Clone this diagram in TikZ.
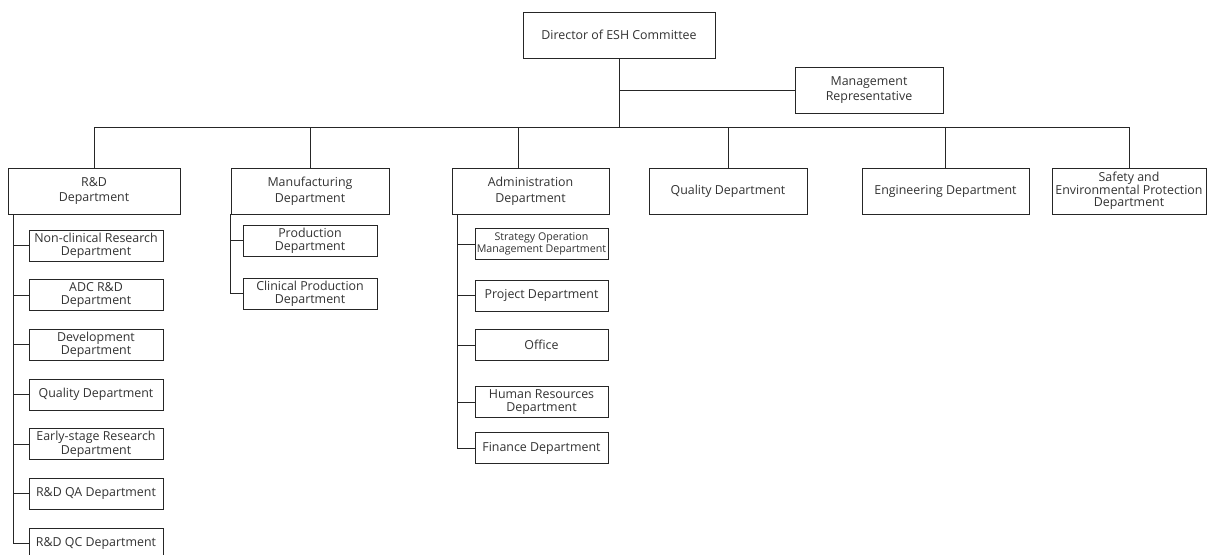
\documentclass[tikz,border=0pt]{standalone}
\usepackage{fontspec}
\setmainfont{Open Sans}
\usepackage{tikz}
\usetikzlibrary{positioning}

\begin{document}
\begin{tikzpicture}[x=0.75pt, y=-0.75pt,
  line/.style={draw=black!85, line width=0.6pt},
  box/.style={draw=black!85, line width=0.6pt, fill=white, align=center, inner sep=1pt,
    minimum height=34.5pt, text=black!80, font=\fontsize{9.3}{11.7}\selectfont},
  sub/.style={box, minimum width=100.5pt, minimum height=23.25pt, font=\fontsize{9.3}{10}\selectfont}]

\useasboundingbox (0,0) rectangle (1209,555);

% Committee
\node[box, minimum width=144pt] (dir) at (619,35) {Director of ESH Committee};
\node[box, minimum width=111pt] (rep) at (869,90) {Management\\Representative};
\coordinate (bus) at (619,127);

% Departments
\node[box, minimum width=129pt] (rd) at (94,191) {R\&D\\Department};
\node[box, minimum width=118.5pt] (mfg) at (310,191) {Manufacturing\\Department};
\node[box, minimum width=117.75pt] (adm) at (530.5,191) {Administration\\Department};
\node[box, minimum width=118.5pt] (qua) at (728,191) {Quality Department};
\node[box, minimum width=125.25pt] (eng) at (945.5,191) {Engineering Department};
\node[box, minimum width=115.5pt, font=\fontsize{9.3}{9.4}\selectfont] (saf) at (1129,191)
  {Safety and\\Environmental Protection\\Department};

% R&D sub departments
\foreach \name [count=\i] in {Non-clinical Research\\Department, ADC R\&D\\Department,
    Development\\Department, Quality Department, Early-stage Research\\Department,
    R\&D QA Department, R\&D QC Department}
  \node[sub] (rd\i) at (96,{245.5+49.67*(\i-1)}) {\name};

% Manufacturing sub departments
\node[sub] (mfg1) at (310,240.5) {Production\\Department};
\node[sub] (mfg2) at (310,293.5) {Clinical Production\\Department};

% Administration sub departments
\node[sub, minimum width=99.75pt, font=\fontsize{8}{9.25}\selectfont] (adm1) at (541.5,244)
  {Strategy Operation\\Management Department};
\node[sub, minimum width=99.75pt] (adm2) at (541.5,295.5) {Project Department};
\node[sub, minimum width=99.75pt] (adm3) at (541.5,345) {Office};
\node[sub, minimum width=99.75pt] (adm4) at (541.5,402) {Human Resources\\Department};
\node[sub, minimum width=99.75pt] (adm5) at (541.5,448) {Finance Department};

% Connectors
\draw[line] (dir.south) -- (bus);
\draw[line] (dir.south |- rep.west) -- (rep.west);
\foreach \d in {rd,mfg,qua,eng,saf}
  \draw[line] (\d.north) |- (bus);
\draw[line] ([xshift=-9pt]adm.north) |- (bus);

\foreach \i in {1,...,7}
  \draw[line] ([xshift=4.5pt]rd.south west) |- (rd\i.west);
\foreach \i in {1,2}
  \draw[line] (mfg.south west) |- (mfg\i.west);
\foreach \i in {1,...,5}
  \draw[line] ([xshift=4.5pt]adm.south west) |- (adm\i.west);
\end{tikzpicture}
\end{document}
